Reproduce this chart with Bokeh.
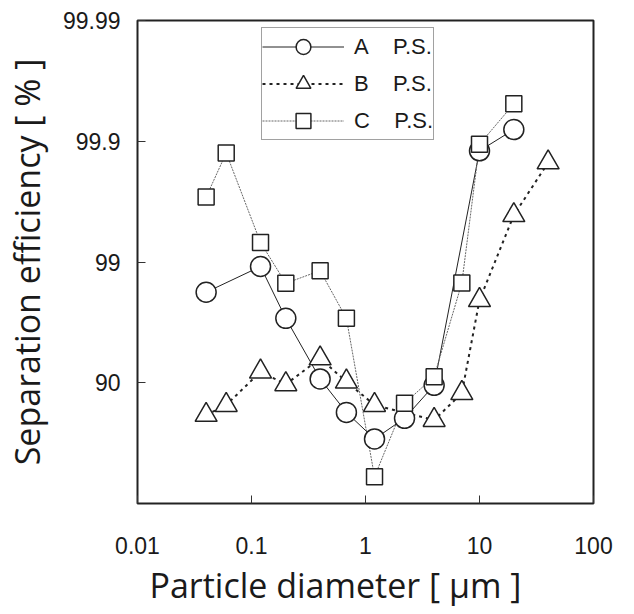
import numpy as np
from bokeh.plotting import figure
from bokeh.models import (ColumnDataSource, Range1d, FixedTicker, CustomJSTickFormatter,
                          CustomJSTransform, Legend, LegendItem, Title)
from bokeh.transform import transform
from bokeh.embed import file_html
from bokeh.resources import INLINE

# Particle diameter [um] and separation efficiency [%]
d_A = [0.04, 0.12, 0.2, 0.4, 0.68, 1.2, 2.2, 4.0, 10, 20]
eff_A = [98.22, 98.91, 97.07, 90.7, 82.4, 70.8, 80.3, 89.5, 99.88, 99.92]

d_B = [0.04, 0.06, 0.12, 0.2, 0.4, 0.68, 1.2, 4.0, 7.0, 10, 20, 40]
eff_B = [81.5, 84.7, 91.9, 89.7, 93.7, 90.2, 84.7, 79.6, 87.8, 97.93, 99.59, 99.85]

d_C = [0.04, 0.06, 0.12, 0.2, 0.4, 0.68, 1.2, 2.2, 4.0, 7.0, 10, 20]
eff_C = [99.71, 99.875, 99.31, 98.50, 98.82, 97.07, 40.0, 85.2, 91.1, 98.51, 99.894, 99.951]

series_labels = ["A\u00a0\u00a0\u00a0\u00a0P.S.", "B\u00a0\u00a0\u00a0\u00a0P.S.", "C\u00a0\u00a0\u00a0\u00a0P.S."]

x_ticks = [0.01, 0.1, 1, 10, 100]
x_tick_labels = ["0.01", "0.1", "1", "10", "100"]
y_ticks_pct = [90, 99, 99.9, 99.99]
y_tick_labels = ["90", "99", "99.9", "99.99"]

# probability-type axis: position = -log10(1 - efficiency)
eff_scale = CustomJSTransform(
    func="return -Math.log10(1 - x/100)",
    v_func="return xs.map(v => -Math.log10(1 - v/100))",
)
y_tick_pos = [float(-np.log10(1 - v / 100)) for v in y_ticks_pct]

p = figure(width=618, height=612, x_axis_type="log",
           x_range=Range1d(x_ticks[0], x_ticks[-1]),
           y_range=Range1d(0, y_tick_pos[-1]),
           output_backend="svg", toolbar_location=None,
           min_border_left=125, min_border_right=25,
           min_border_top=20, min_border_bottom=109)
p.background_fill_color = "white"
p.border_fill_color = "white"
p.outline_line_color = "#222222"
p.outline_line_width = 2
p.xgrid.visible = False
p.ygrid.visible = False

src_A = ColumnDataSource(dict(d=d_A, eff=eff_A))
src_B = ColumnDataSource(dict(d=d_B, eff=eff_B))
src_C = ColumnDataSource(dict(d=d_C, eff=eff_C))
ycol = transform("eff", eff_scale)

lA = p.line("d", ycol, source=src_A, line_color="#222222", line_width=1)
lB = p.line("d", ycol, source=src_B, line_color="#222222", line_width=2, line_dash="3 4")
lC = p.line("d", ycol, source=src_C, line_color="#666666", line_width=1, line_dash="2 1")

mk = dict(fill_color="white", line_color="#222222", line_width=1.5)
sA = p.scatter("d", ycol, source=src_A, marker="circle", size=20, **mk)
sB = p.scatter("d", ycol, source=src_B, marker="triangle", size=22, **mk)
sC = p.scatter("d", ycol, source=src_C, marker="square", size=16, **mk)

# axes
p.xaxis.ticker = FixedTicker(ticks=x_ticks, minor_ticks=[])
p.xaxis.formatter = CustomJSTickFormatter(
    args=dict(pos=x_ticks, lab=x_tick_labels),
    code="const i = pos.findIndex(v => Math.abs(Math.log10(v) - Math.log10(tick)) < 1e-6); return i >= 0 ? lab[i] : '';")
p.yaxis.ticker = FixedTicker(ticks=y_tick_pos, minor_ticks=[])
p.yaxis.formatter = CustomJSTickFormatter(
    args=dict(pos=y_tick_pos, lab=y_tick_labels),
    code="const i = pos.findIndex(v => Math.abs(v - tick) < 1e-6); return i >= 0 ? lab[i] : '';")

for ax in (p.xaxis[0], p.yaxis[0]):
    ax.axis_line_color = None
    ax.major_tick_in = 8
    ax.major_tick_out = 0
    ax.major_tick_line_color = "#333333"
    ax.major_tick_line_width = 1
    ax.minor_tick_line_color = None
    ax.major_label_text_font = "Liberation Sans"
    ax.major_label_text_font_size = "23px"
    ax.major_label_text_color = "#1a1a1a"
    ax.axis_label_text_font = "Open Sans"
    ax.axis_label_text_font_size = "34px"
    ax.axis_label_text_font_style = "normal"
    ax.axis_label_text_color = "#1a1a1a"

p.yaxis.axis_label = "Separation efficiency [ % ]"
p.xaxis.major_label_standoff = 33
p.yaxis.major_label_standoff = 17
p.yaxis.axis_label_standoff = 10

xlabel = Title(text="Particle diameter [ \u03bcm ]", align="left", offset=12, standoff=6,
               text_font="Open Sans", text_font_size="34px", text_font_style="normal",
               text_color="#1a1a1a")
p.add_layout(xlabel, "below")

legend = Legend(items=[
    LegendItem(label=series_labels[0], renderers=[lA, sA]),
    LegendItem(label=series_labels[1], renderers=[lB, sB]),
    LegendItem(label=series_labels[2], renderers=[lC, sC]),
], location=(124, 363), glyph_width=82, glyph_height=37, spacing=0, padding=0,
   label_standoff=10, label_text_font="Liberation Sans", label_text_font_size="22px",
   label_text_color="#1a1a1a", border_line_color="#444444", border_line_width=1,
   background_fill_color="white", background_fill_alpha=1.0)
p.add_layout(legend)

open("out.html", "w").write(file_html(p, INLINE))
